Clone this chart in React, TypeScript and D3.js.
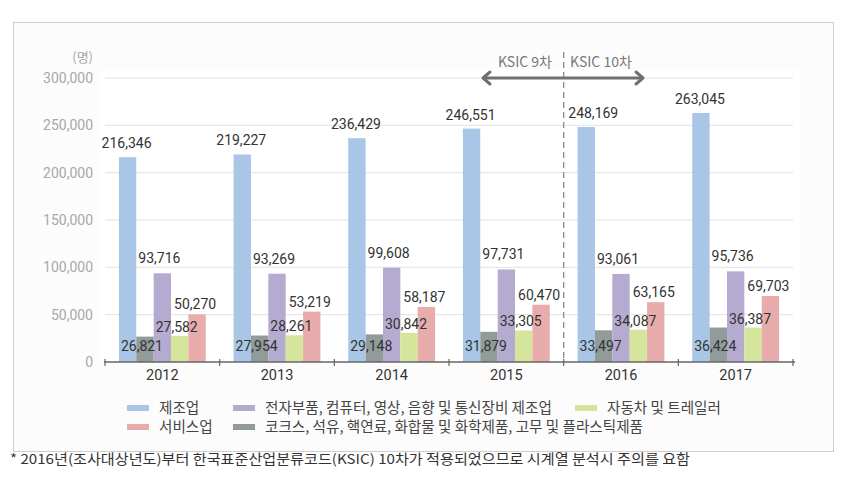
import React from "react";
import * as d3 from "d3";

const years = ["2012", "2013", "2014", "2015", "2016", "2017"];
const seriesNames = [
  "제조업",
  "코크스, 석유, 핵연료, 화합물 및 화학제품, 고무 및 플라스틱제품",
  "전자부품, 컴퓨터, 영상, 음향 및 통신장비 제조업",
  "자동차 및 트레일러",
  "서비스업",
];
const manufacturing = [216346, 219227, 236429, 246551, 248169, 263045];
const chemicals = [26821, 27954, 29148, 31879, 33497, 36424];
const electronics = [93716, 93269, 99608, 97731, 93061, 95736];
const automobiles = [27582, 28261, 30842, 33305, 34087, 36387];
const services = [50270, 53219, 58187, 60470, 63165, 69703];
const yTicks = [0, 50000, 100000, 150000, 200000, 250000, 300000];
const colors = ["#a9c6e6", "#919b9a", "#b5abd0", "#d5e69c", "#e8acac"];
const footnote =
  "* 2016년(조사대상년도)부터 한국표준산업분류코드(KSIC) 10차가 적용되었으므로 시계열 분석시 주의를 요함";

const seriesValues = [manufacturing, chemicals, electronics, automobiles, services];

export default function App() {
  const W = 847;
  const H = 483;
  const x0 = d3.scaleBand<string>().domain(years).range([105, 793]).padding(0);
  const x1 = d3
    .scaleBand<number>()
    .domain(d3.range(seriesNames.length))
    .range([0, x0.bandwidth()])
    .paddingInner(0)
    .paddingOuter(0.8);
  const y = d3.scaleLinear().domain([0, 300000]).range([362, 78]);
  const fmt = d3.format(",");
  const numFont = "Roboto, 'DejaVu Sans', sans-serif";
  const krFont = "'Noto Sans CJK KR', 'Noto Sans', sans-serif";

  const labelPos = (si: number, v: number, cx: number, yr: string) => {
    if (si === 0) return { x: cx - 1 + (yr === "2016" ? 8 : 0), y: y(v) - 9 };
    if (si === 1) return { x: cx - 3, y: 351 };
    if (si === 2) return { x: cx - 3, y: y(v) - 10 };
    if (si === 3) return { x: cx - 3, y: y(v) - 4 };
    return { x: cx - 2, y: y(v) - 5 };
  };

  const legend = [
    { si: 0, x: 127, y: 408 },
    { si: 2, x: 233, y: 408 },
    { si: 3, x: 575, y: 408 },
    { si: 4, x: 127, y: 427 },
    { si: 1, x: 233, y: 427 },
  ];

  const boundaries = years.map((yr) => x0(yr)!).concat([793]);
  const divX = x0("2016")!;

  return (
    <svg
      width={W}
      height={H}
      style={{ position: "absolute", left: 0, top: 0, background: "#fff" }}
    >
      <rect x={13.5} y={22.5} width={820} height={429} fill="#fcfcfc" stroke="#cfcfcf" strokeWidth={1} />
      <rect x={100} y={70} width={700} height={292} fill="#ffffff" />

      {/* gridlines */}
      {yTicks.slice(1).map((t) => (
        <line key={t} x1={105} x2={793} y1={y(t)} y2={y(t)} stroke="#e2e2e2" strokeWidth={1} />
      ))}
      {/* y labels */}
      {yTicks.map((t) => (
        <text
          key={t}
          x={93}
          y={y(t) + 5}
          textAnchor="end"
          fontFamily={numFont}
          fontSize={14}
          fill="#a8a8a8"
        >
          {fmt(t)}
        </text>
      ))}
      <text x={93} y={62} textAnchor="end" fontFamily={krFont} fontSize={13} fill="#a8a8a8">
        (명)
      </text>

      {/* bars */}
      {years.map((yr, i) => (
        <g key={yr} transform={`translate(${x0(yr)},0)`}>
          {seriesValues.map((vals, si) => (
            <rect
              key={si}
              x={x1(si)}
              y={y(vals[i])}
              width={x1.bandwidth()}
              height={y(0) - y(vals[i])}
              fill={colors[si]}
            />
          ))}
        </g>
      ))}

      {/* value labels */}
      {years.map((yr, i) =>
        seriesValues.map((vals, si) => {
          const cx = x0(yr)! + x1(si)! + x1.bandwidth() / 2;
          const p = labelPos(si, vals[i], cx, yr);
          return (
            <text
              key={yr + si}
              x={p.x}
              y={p.y}
              textAnchor="middle"
              fontFamily={numFont}
              fontSize={14}
              fill="#333"
            >
              {fmt(vals[i])}
            </text>
          );
        })
      )}

      {/* x axis */}
      <line x1={104} x2={795} y1={362} y2={362} stroke="#666" strokeWidth={1.5} />
      {boundaries.map((bx, i) => (
        <line key={i} x1={bx} x2={bx} y1={359} y2={366} stroke="#666" strokeWidth={1.2} />
      ))}
      {years.map((yr) => (
        <text
          key={yr}
          x={x0(yr)! + x0.bandwidth() / 2}
          y={380}
          textAnchor="middle"
          fontFamily={numFont}
          fontSize={14.5}
          fill="#333"
        >
          {yr}
        </text>
      ))}

      {/* KSIC annotation */}
      <line x1={divX} x2={divX} y1={52} y2={362} stroke="#8a8a8a" strokeWidth={1.3} strokeDasharray="6 4" />
      <line x1={484} x2={642} y1={78} y2={78} stroke="#707070" strokeWidth={3} />
      <polyline points="490,72 483,78 490,84" fill="none" stroke="#707070" strokeWidth={3} strokeLinejoin="round" strokeLinecap="round" />
      <polyline points="636,72 643,78 636,84" fill="none" stroke="#707070" strokeWidth={3} strokeLinejoin="round" strokeLinecap="round" />
      <text x={552} y={67} textAnchor="end" fontFamily={krFont} fontSize={14} fill="#777">
        KSIC 9차
      </text>
      <text x={570} y={67} textAnchor="start" fontFamily={krFont} fontSize={14} fill="#777">
        KSIC 10차
      </text>

      {/* legend */}
      {legend.map((l) => (
        <g key={l.si}>
          <rect x={l.x} y={l.y - 3} width={22} height={6} fill={colors[l.si]} />
          <text
            x={l.x + 32}
            y={l.y + 5}
            fontFamily={krFont}
            fontSize={14.6}
            fill="#444"
          >
            {seriesNames[l.si]}
          </text>
        </g>
      ))}

      {/* footnote */}
      <text
        x={10}
        y={464}
        fontFamily={krFont}
        fontSize={13.5}
        fill="#333"
        textLength={680}
        lengthAdjust="spacingAndGlyphs"
      >
        {footnote}
      </text>
    </svg>
  );
}
